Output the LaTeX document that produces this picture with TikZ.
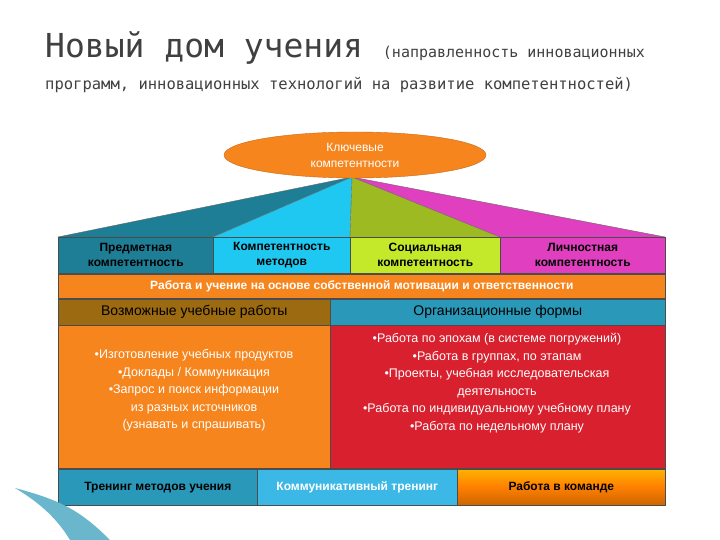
\documentclass[tikz,border=0pt]{standalone}
\usepackage{fontspec}
\setmainfont{Liberation Sans}
\newfontfamily\ttl{DejaVu Sans Mono}
\usetikzlibrary{shapes.geometric}
\definecolor{dteal}{HTML}{1E7E96}
\definecolor{cyanb}{HTML}{1EC8F0}
\definecolor{lime}{HTML}{C4E82A}
\definecolor{magn}{HTML}{E040C0}
\definecolor{orng}{HTML}{F7851E}
\definecolor{brwn}{HTML}{9C6A10}
\definecolor{redb}{HTML}{D8202E}
\definecolor{lblue}{HTML}{3CB8E6}
\definecolor{tealb}{HTML}{2A98B8}
\tikzset{box/.style={draw=black!70,line width=0.6pt,inner sep=0pt,align=center,font=\fontsize{12}{15}\selectfont\bfseries},
txt/.style={align=center,font=\fontsize{12.5}{17.5}\selectfont}}
\begin{document}
\begin{tikzpicture}[x=1pt,y=-1pt]
\useasboundingbox (0,0) rectangle (720,540);
\fill[white] (0,0) rectangle (720,540);
\node[anchor=base west,text=black!75,inner sep=0] (t1) at (45,58) {\ttl\fontsize{33}{36}\selectfont Новый дом учения \fontsize{15}{18}\selectfont(направленность инновационных};
\node[anchor=base west,text=black!75,inner sep=0] (t2) at (45,90) {\ttl\fontsize{15.5}{18}\selectfont программ, инновационных технологий на развитие компетентностей)};
% roof
\coordinate (ap) at (352,177);
\fill[dteal] (58,237) -- (ap) -- (213,237) -- cycle;
\fill[cyanb] (213,237) -- (ap) -- (350,237) -- cycle;
\fill[lime!80!black] (350,237) -- (ap) -- (500,237) -- cycle;
\fill[magn] (500,237) -- (ap) -- (665,237) -- cycle;
\draw[black!60,line width=0.4pt] (58,237) -- (ap) -- (665,237) (213,237) -- (ap) -- (350,237) (ap) -- (500,237);
\node[ellipse,fill=orng,draw=orng!80!black,minimum width=262,minimum height=46,inner sep=0pt,text=white,font=\fontsize{12}{16}\selectfont,align=center] (kc) at (355,155) {Ключевые\\компетентности};
% row boxes
\node[box,fill=dteal,minimum width=155,minimum height=36,anchor=north west] (b1) at (58,237) {Предметная\\компетентность};
\node[box,fill=cyanb,minimum width=137,minimum height=36,anchor=north west] (b2) at (213,237) {Компетентность\\методов};
\node[box,fill=lime,minimum width=150,minimum height=36,anchor=north west] (b3) at (350,237) {Социальная\\компетентность};
\node[box,fill=magn,minimum width=165,minimum height=36,anchor=north west] (b4) at (500,237) {Личностная\\компетентность};
\node[box,fill=orng,text=white,minimum width=607,minimum height=24,anchor=north west] (mot) at (58,274) {Работа и учение на основе собственной мотивации и ответственности};
\node[box,fill=brwn,minimum width=272,minimum height=26,anchor=north west,font=\fontsize{14}{16}\selectfont] (pw) at (58,299) {Возможные учебные работы};
\node[box,fill=tealb,minimum width=335,minimum height=26,anchor=north west,font=\fontsize{14}{16}\selectfont] (of) at (330,299) {Организационные формы};
\node[box,fill=orng,minimum width=272,minimum height=143,anchor=north west] (ob) at (58,325) {};
\node[box,fill=redb,minimum width=335,minimum height=143,anchor=north west] (rb) at (330,325) {};
\node[txt,text=white,anchor=north] (ot) at (194,346) {•Изготовление учебных продуктов\\•Доклады / Коммуникация\\•Запрос и поиск информации\\из разных источников\\(узнавать и спрашивать)};
\node[txt,text=white,anchor=north] (rt) at (497,330) {•Работа по эпохам (в системе погружений)\\•Работа в группах, по этапам\\•Проекты, учебная исследовательская\\деятельность\\•Работа по индивидуальному учебному плану\\•Работа по недельному плану};
\node[box,fill=tealb,minimum width=199,minimum height=36,anchor=north west] (c1) at (58,469) {Тренинг методов учения};
\node[box,fill=lblue,text=white,minimum width=200,minimum height=36,anchor=north west] (c2) at (257,469) {Коммуникативный тренинг};
\shade[top color=orange!60!yellow,bottom color=orange!80!black,middle color=orange] (457,469) rectangle (665,505);
\node[box,minimum width=208,minimum height=36,anchor=north west] (c3) at (457,469) {Работа в команде};
% decorative swoosh
\fill[tealb!70] (15,488) .. controls (60,500) and (80,510) .. (110,540) -- (70,540) .. controls (55,515) and (35,500) .. (15,488);
\end{tikzpicture}
\end{document}
